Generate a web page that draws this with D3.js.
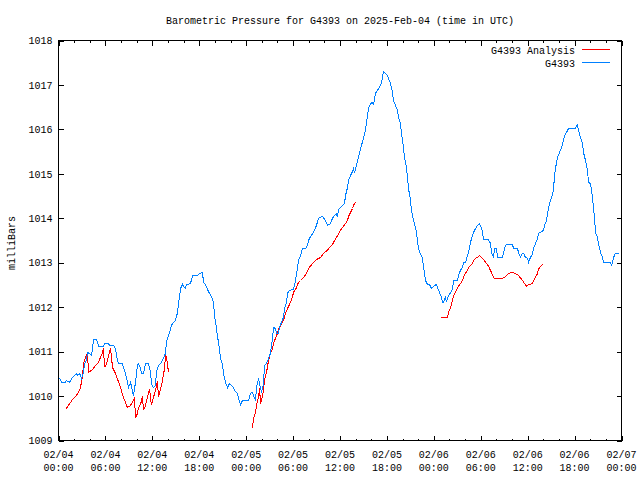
<!DOCTYPE html>
<html><head><meta charset="utf-8">
<script src="https://cdn.jsdelivr.net/npm/d3@7"></script>
<style>
body{margin:0;background:#fff}
text{font-family:"Liberation Mono","DejaVu Sans Mono",monospace;font-size:10px;fill:#000}
</style>
</head><body>
<svg id="chart" width="640" height="480"></svg>
<script>
// ---- data (hours since 2025-02-04 00:00 UTC, millibars) ----
const titleText = "Barometric Pressure for G4393 on 2025-Feb-04 (time in UTC)";
const yLabel = "milliBars";
const seriesNames = ["G4393 Analysis", "G4393"];
const seriesColors = ["#ff0000", "#0080ff"];
const yTickValues = [1009,1010,1011,1012,1013,1014,1015,1016,1017,1018];
const xMajorHours = [0,6,12,18,24,30,36,42,48,54,60,66,72];
const xTickDates = ["02/04","02/04","02/04","02/04","02/05","02/05","02/05","02/05","02/06","02/06","02/06","02/06","02/07"];
const xTickTimes = ["00:00","06:00","12:00","18:00","00:00","06:00","12:00","18:00","00:00","06:00","12:00","18:00","00:00"];

const g4393 = [
[0.13,1010.40],[0.38,1010.31],[0.90,1010.31],[1.02,1010.35],[1.41,1010.31],[1.79,1010.42],[2.05,1010.46],[2.30,1010.51],[2.43,1010.46],[2.69,1010.51],
[2.94,1010.40],[3.20,1010.53],[3.33,1010.73],[3.58,1010.80],[3.71,1010.98],[3.96,1010.96],[4.22,1010.91],[4.35,1011.09],[4.48,1011.27],[4.86,1011.27],
[4.99,1011.21],[5.12,1011.12],[5.75,1011.12],[5.88,1011.18],[6.39,1011.18],[6.52,1011.14],[7.03,1011.14],[7.29,1011.07],[7.42,1010.91],[7.67,1010.73],
[8.18,1010.73],[8.31,1010.64],[8.57,1010.51],[8.82,1010.31],[8.95,1010.19],[9.21,1010.31],[9.59,1010.01],[9.85,1010.31],[10.10,1010.69],[10.23,1010.73],
[10.49,1010.62],[10.61,1010.51],[10.87,1010.51],[11.13,1010.73],[11.51,1010.73],[11.77,1010.53],[11.89,1010.28],[12.15,1010.19],[12.40,1010.24],[12.53,1010.53],
[12.66,1010.62],[12.79,1010.69],[13.17,1010.76],[13.43,1010.85],[13.68,1010.96],[13.81,1011.21],[13.94,1011.30],[14.20,1011.43],[14.45,1011.59],[14.71,1011.66],
[14.96,1011.70],[15.22,1011.88],[15.35,1012.08],[15.47,1012.22],[15.60,1012.42],[15.86,1012.51],[15.99,1012.47],[16.24,1012.42],[16.37,1012.51],[16.88,1012.53],
[17.14,1012.71],[17.78,1012.71],[18.03,1012.76],[18.42,1012.78],[18.54,1012.56],[18.80,1012.51],[19.05,1012.40],[19.31,1012.31],[19.57,1012.24],[19.82,1012.11],
[19.95,1011.81],[20.21,1011.54],[20.33,1011.32],[20.46,1011.23],[20.59,1011.03],[20.72,1010.85],[20.97,1010.71],[21.10,1010.51],[21.36,1010.31],[21.61,1010.19],
[21.87,1010.28],[22.25,1010.22],[22.51,1010.13],[22.89,1010.06],[23.02,1009.95],[23.28,1009.81],[23.53,1009.90],[24.30,1009.90],[24.55,1010.06],[24.81,1010.08],
[24.94,1010.01],[25.19,1009.90],[25.32,1010.19],[25.58,1010.40],[25.71,1010.28],[25.96,1010.08],[26.22,1010.28],[26.34,1010.69],[26.60,1010.73],[26.86,1010.85],
[27.11,1010.96],[27.37,1011.30],[27.50,1011.54],[27.75,1011.52],[27.88,1011.41],[28.13,1011.41],[28.26,1011.54],[28.52,1011.66],[28.77,1011.77],[28.90,1011.97],
[29.16,1012.11],[29.29,1012.31],[29.54,1012.38],[30.05,1012.40],[30.31,1012.60],[30.56,1012.87],[30.69,1013.05],[30.95,1013.16],[31.20,1013.32],[31.59,1013.32],
[31.84,1013.39],[31.97,1013.50],[32.23,1013.59],[32.61,1013.68],[32.99,1013.84],[33.25,1014.00],[33.76,1014.04],[34.15,1013.95],[34.40,1013.84],[34.79,1013.88],
[35.04,1014.00],[35.30,1014.06],[35.55,1014.11],[35.68,1014.02],[35.81,1014.20],[36.06,1014.24],[36.45,1014.31],[36.58,1014.33],[36.70,1014.51],[36.96,1014.69],
[37.09,1014.85],[37.34,1014.96],[37.60,1015.05],[37.73,1015.12],[37.85,1015.01],[38.11,1015.19],[38.24,1015.30],[38.49,1015.46],[38.75,1015.64],[39.00,1015.80],
[39.26,1015.98],[39.52,1016.31],[39.65,1016.47],[39.90,1016.58],[40.16,1016.61],[40.28,1016.54],[40.54,1016.81],[40.80,1016.88],[41.05,1016.94],[41.31,1017.06],
[41.44,1017.17],[41.56,1017.30],[41.82,1017.26],[42.07,1017.21],[42.20,1017.15],[42.46,1017.03],[42.71,1016.83],[42.84,1016.65],[43.10,1016.54],[43.35,1016.43],
[43.48,1016.27],[43.74,1016.13],[43.86,1015.91],[44.12,1015.59],[44.25,1015.37],[44.50,1015.14],[44.63,1014.92],[44.76,1014.67],[45.02,1014.40],[45.14,1014.18],
[45.40,1013.95],[45.53,1013.88],[45.78,1013.68],[45.91,1013.50],[46.04,1013.32],[46.29,1013.19],[46.55,1013.10],[46.68,1012.89],[46.81,1012.76],[46.94,1012.60],
[47.19,1012.51],[47.45,1012.51],[47.70,1012.42],[47.96,1012.47],[48.34,1012.51],[48.47,1012.44],[48.72,1012.33],[48.98,1012.22],[49.11,1012.11],[49.24,1012.11],
[49.49,1012.22],[49.62,1012.11],[49.75,1012.20],[50.00,1012.29],[50.39,1012.40],[50.52,1012.60],[51.03,1012.60],[51.15,1012.71],[51.41,1012.83],[51.67,1012.89],
[51.79,1013.01],[52.05,1013.01],[52.31,1013.16],[52.43,1013.23],[52.69,1013.46],[52.94,1013.61],[53.07,1013.68],[53.33,1013.77],[53.58,1013.84],[53.84,1013.88],
[54.09,1013.79],[54.22,1013.68],[54.35,1013.52],[54.99,1013.52],[55.25,1013.43],[55.38,1013.23],[55.63,1013.12],[55.76,1013.32],[56.01,1013.32],[56.14,1013.12],
[56.78,1013.12],[56.91,1013.23],[57.17,1013.39],[57.42,1013.41],[58.06,1013.41],[58.19,1013.32],[58.70,1013.32],[58.83,1013.23],[59.08,1013.12],[59.34,1013.21],
[59.47,1013.21],[59.72,1013.12],[59.98,1013.10],[60.11,1013.01],[60.36,1013.12],[60.62,1013.19],[60.75,1013.32],[61.00,1013.43],[61.26,1013.55],[61.39,1013.66],
[61.64,1013.68],[62.02,1013.73],[62.15,1013.84],[62.41,1013.95],[62.54,1014.11],[62.79,1014.33],[63.05,1014.47],[63.30,1014.63],[63.43,1014.96],[63.69,1015.26],
[63.82,1015.37],[64.07,1015.48],[64.33,1015.59],[64.58,1015.75],[64.71,1015.86],[64.97,1015.93],[65.22,1016.02],[66.12,1016.02],[66.24,1016.09],[66.37,1016.11],
[66.50,1015.98],[66.76,1015.82],[67.01,1015.68],[67.14,1015.48],[67.40,1015.30],[67.65,1015.08],[67.78,1014.81],[68.04,1014.78],[68.29,1014.47],[68.42,1014.22],
[68.55,1014.00],[68.68,1013.68],[68.93,1013.57],[69.06,1013.43],[69.31,1013.23],[69.57,1013.12],[69.70,1013.01],[70.59,1013.01],[70.72,1012.92],[70.85,1013.01],
[70.98,1013.12],[71.23,1013.21],[71.74,1013.21]
];

const analysisDay1 = [
[0.90,1009.70],[1.28,1009.79],[1.79,1009.92],[2.17,1009.99],[2.56,1010.08],[2.81,1010.19],[3.07,1010.46],[3.20,1010.73],[3.45,1010.87],[3.71,1010.96],
[3.84,1010.53],[4.35,1010.60],[4.73,1010.69],[5.12,1010.76],[5.37,1010.87],[5.63,1010.98],[5.75,1011.09],[5.88,1010.67],[6.01,1010.67],[6.27,1010.80],
[6.65,1011.09],[6.91,1010.64],[7.29,1010.51],[7.93,1010.19],[8.31,1009.97],[8.82,1009.74],[9.21,1009.79],[9.72,1009.95],[9.85,1009.50],[10.10,1009.61],
[10.23,1009.74],[10.49,1009.81],[10.74,1009.99],[10.87,1009.68],[11.13,1009.79],[11.38,1009.99],[11.64,1010.15],[11.89,1009.79],[12.15,1009.97],[12.40,1010.13],
[12.66,1010.33],[12.79,1009.97],[13.04,1010.15],[13.30,1010.35],[13.56,1010.62],[13.68,1010.91],[13.81,1010.87],[13.94,1010.71],[14.07,1010.53]
];
const analysisDay2 = [
[24.81,1009.27],[24.94,1009.50],[25.19,1009.63],[25.32,1009.79],[25.58,1009.97],[25.71,1010.17],[25.84,1009.83],[25.96,1009.90],[26.09,1010.01],[26.22,1010.13],
[26.34,1010.35],[26.60,1010.53],[26.86,1010.80],[27.11,1010.96],[27.37,1011.07],[27.50,1011.18],[27.75,1011.30],[28.01,1011.41],[28.13,1011.50],[28.39,1011.57],
[28.77,1011.70],[29.03,1011.86],[29.29,1011.97],[29.67,1012.11],[29.93,1012.24],[30.05,1012.33],[30.44,1012.44],[30.69,1012.56],[30.95,1012.60],[31.33,1012.67],
[31.72,1012.76],[31.97,1012.87],[32.48,1012.98],[32.99,1013.07],[33.51,1013.12],[33.89,1013.21],[34.40,1013.28],[34.66,1013.34],[35.04,1013.41],[35.30,1013.50],
[35.68,1013.61],[36.06,1013.73],[36.45,1013.82],[36.70,1013.88],[36.96,1013.95],[37.09,1014.04],[37.34,1014.13],[37.60,1014.22],[37.73,1014.29],[37.98,1014.36]
];
const analysisDay3 = [
[48.85,1011.75],[49.24,1011.77],[49.75,1011.77],[49.88,1011.88],[50.13,1011.99],[50.39,1012.15],[50.52,1012.26],[50.90,1012.38],[51.15,1012.47],[51.41,1012.53],
[51.67,1012.60],[51.79,1012.67],[52.05,1012.76],[52.31,1012.83],[52.43,1012.89],[52.69,1012.94],[52.94,1012.98],[53.07,1013.05],[53.33,1013.10],[53.58,1013.12],
[53.84,1013.16],[54.22,1013.10],[54.61,1013.01],[54.99,1012.92],[55.38,1012.78],[55.63,1012.67],[55.76,1012.65],[56.78,1012.65],[57.17,1012.69],[57.55,1012.76],
[57.93,1012.78],[58.44,1012.76],[58.83,1012.71],[59.34,1012.60],[59.60,1012.53],[59.85,1012.47],[60.11,1012.51],[60.62,1012.53],[60.75,1012.60],[61.00,1012.67],
[61.26,1012.76],[61.39,1012.85],[61.64,1012.92],[61.90,1012.96]
];

// ---- chart ----
const svg = d3.select("#chart");
const L = 58.5, R = 621.5, T = 40.5, B = 440.5;
const x = d3.scaleLinear().domain([0, 72]).range([L, R]);
const y = d3.scaleLinear().domain([1009, 1018]).range([B, T]);
const minorHours = d3.range(0, 73, 2).filter(h => h % 6 !== 0);

svg.append("rect").attr("width", 640).attr("height", 480).attr("fill", "#fff");

function clean(g){ g.select(".domain").remove(); g.selectAll("line").attr("stroke","#000").attr("shape-rendering","crispEdges"); }

svg.append("g").attr("transform", `translate(0,${B})`)
  .call(d3.axisBottom(x).tickValues(xMajorHours).tickSize(-5).tickFormat("")).call(clean);
svg.append("g").attr("transform", `translate(0,${B})`)
  .call(d3.axisBottom(x).tickValues(minorHours).tickSize(-2).tickFormat("")).call(clean);
svg.append("g").attr("transform", `translate(0,${T})`)
  .call(d3.axisTop(x).tickValues(xMajorHours).tickSize(-5).tickFormat("")).call(clean);
svg.append("g").attr("transform", `translate(0,${T})`)
  .call(d3.axisTop(x).tickValues(minorHours).tickSize(-2).tickFormat("")).call(clean);
const yl = svg.append("g").attr("transform", `translate(${L},0)`)
  .call(d3.axisLeft(y).tickValues(yTickValues).tickSize(-5).tickPadding(6).tickFormat(d3.format("d")));
clean(yl);
yl.attr("font-family", null).attr("font-size", null);
yl.selectAll("text").attr("fill", "#000");
svg.append("g").attr("transform", `translate(${R},0)`)
  .call(d3.axisRight(y).tickValues(yTickValues).tickSize(-5).tickFormat("")).call(clean);

// x labels (two lines)
const xl = svg.append("g");
xl.selectAll("text.d").data(xMajorHours).join("text").attr("class","d")
  .attr("x", d => x(d)).attr("y", 458).attr("text-anchor", "middle").text((d,i) => xTickDates[i]);
xl.selectAll("text.t").data(xMajorHours).join("text").attr("class","t")
  .attr("x", d => x(d)).attr("y", 471).attr("text-anchor", "middle").text((d,i) => xTickTimes[i]);

// border
svg.append("rect").attr("x", L).attr("y", T).attr("width", R - L).attr("height", B - T)
  .attr("fill", "none").attr("stroke", "#000").attr("shape-rendering", "crispEdges");

// lines
const line = d3.line().x(d => x(d[0])).y(d => y(d[1]));
[analysisDay1, analysisDay2, analysisDay3].forEach(seg => {
  svg.append("path").datum(seg).attr("d", line).attr("fill", "none")
    .attr("stroke", seriesColors[0]).attr("stroke-width", 1).attr("shape-rendering", "crispEdges");
});
svg.append("path").datum(g4393).attr("d", line).attr("fill", "none")
  .attr("stroke", seriesColors[1]).attr("stroke-width", 1).attr("shape-rendering", "crispEdges");

// title & y label
svg.append("text").attr("x", 340).attr("y", 24).attr("text-anchor", "middle").text(titleText);
svg.append("text").attr("transform", "translate(15,243) rotate(-90)").attr("text-anchor", "middle").text(yLabel);

// legend
const lg = svg.append("g");
seriesNames.forEach((n, i) => {
  const ly = 49.5 + i * 13;
  lg.append("text").attr("x", 575).attr("y", ly + 4).attr("text-anchor", "end").text(n);
  lg.append("line").attr("x1", 582).attr("x2", 610).attr("y1", ly).attr("y2", ly)
    .attr("stroke", seriesColors[i]).attr("shape-rendering", "crispEdges");
});
</script>
</body></html>
